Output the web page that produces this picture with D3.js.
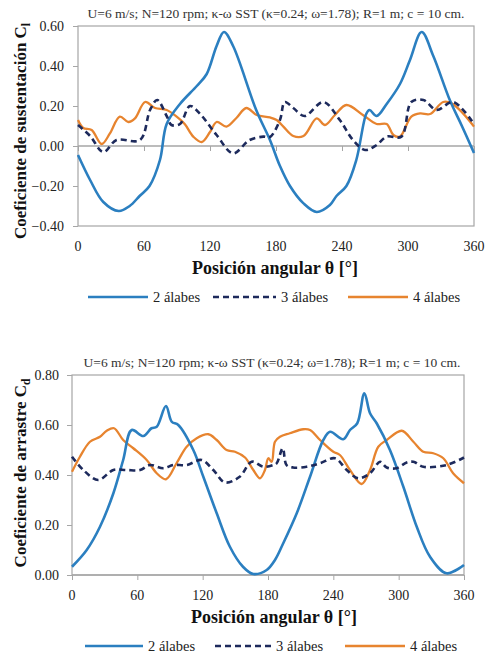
<!DOCTYPE html>
<html>
<head>
<meta charset="utf-8">
<script src="https://cdn.jsdelivr.net/npm/d3@7"></script>
<style>
  body { margin: 0; background: #fff; }
  svg { display: block; font-family: "Liberation Serif", "DejaVu Serif", serif; }
</style>
</head>
<body>
<svg id="chart" width="487" height="655"></svg>
<script>
// shared text
var titleText = 'U=6 m/s; N=120 rpm; \u03ba-\u03c9 SST (\u03ba=0.24; \u03c9=1.78); R=1 m; c = 10 cm.';
var xTitle = 'Posici\u00f3n angular  \u03b8 [\u00b0]';
var seriesNames = ['2 \u00e1labes', '3 \u00e1labes', '4 \u00e1labes'];
var xTicks = [0, 60, 120, 180, 240, 300, 360];

// lift coefficient Cl  [theta, value]
var cl2 = [[0,-0.045],[11,-0.17],[23,-0.28],[37,-0.325],[47,-0.30],[56,-0.25],[65,-0.20],[74.5,-0.07],[80.6,0.11],
  [92.7,0.21],[108,0.30],[117,0.36],[126,0.50],[132.7,0.57],[141,0.50],[162,0.18],[174.5,0.03],[183.6,-0.10],
  [192.7,-0.20],[205,-0.287],[217,-0.33],[229,-0.295],[235,-0.25],[244,-0.20],[253,-0.07],[262,0.16],[265,0.18],
  [271.5,0.15],[280.6,0.21],[292.7,0.31],[301.8,0.43],[312.4,0.57],[323,0.45],[338,0.23],[349,0.10],[360,-0.035]];
var cl3 = [[0,0.105],[11,0.05],[23,-0.03],[35,0.03],[56.4,0.03],[65.5,0.18],[72,0.23],[80.6,0.15],[85,0.105],
  [92.7,0.11],[101.8,0.20],[111,0.16],[126,0.055],[141,-0.037],[156,0.03],[168.5,0.047],[174.5,0.045],[183.6,0.13],
  [188,0.22],[195.7,0.19],[206,0.15],[223,0.22],[238,0.13],[250,0.03],[261,-0.02],[271.5,0.005],[280.6,0.047],
  [294,0.047],[303,0.22],[314,0.23],[326,0.18],[341,0.22],[360,0.11]];
var cl4 = [[0,0.13],[4.8,0.09],[12.4,0.08],[21.5,0.01],[29,0.063],[38,0.147],[45.7,0.12],[51.8,0.138],[61,0.22],
  [70,0.19],[80.6,0.18],[89.7,0.147],[97,0.11],[104.8,0.047],[112.5,0.02],[120,0.07],[126,0.12],[135,0.097],
  [144,0.14],[153,0.19],[162.5,0.155],[174.5,0.143],[180.6,0.13],[186.7,0.097],[195.7,0.05],[205,0.05],[217,0.138],
  [224.5,0.105],[233.6,0.155],[244,0.205],[259,0.155],[271.5,0.11],[280.6,0.11],[286.7,0.055],[292.7,0.047],
  [303,0.147],[311,0.163],[320,0.16],[332,0.22],[339.7,0.213],[350,0.163],[360,0.097]];

// drag coefficient Cd  [theta, value]
var cd2 = [[0,0.033],[13.5,0.10],[25.7,0.193],[38,0.327],[47,0.46],[54.8,0.58],[65.5,0.556],[73,0.587],[77.8,0.593],
  [86.3,0.676],[91.6,0.613],[97.6,0.60],[111.4,0.50],[120.6,0.393],[132.9,0.247],[145,0.113],[157,0.033],[166.5,0.004],
  [178.8,0.02],[186.4,0.06],[194,0.127],[206.4,0.247],[218.6,0.393],[230.8,0.54],[237,0.573],[249,0.543],[255.3,0.58],
  [262,0.607],[268.5,0.727],[273.7,0.647],[279.8,0.607],[292,0.50],[304.3,0.353],[316.6,0.193],[328.8,0.073],
  [344,0.007],[360,0.04]];
var cd3 = [[0,0.473],[10.4,0.42],[24,0.38],[38,0.42],[50,0.42],[62.5,0.42],[71.6,0.44],[84,0.427],[93,0.44],
  [105.3,0.44],[119,0.46],[129.8,0.42],[140.5,0.37],[154,0.393],[165,0.453],[175.7,0.433],[185,0.44],[188,0.447],
  [193.5,0.507],[197,0.44],[203,0.43],[215.5,0.433],[227.8,0.447],[241.5,0.467],[252.3,0.42],[263,0.387],
  [273.7,0.407],[282.9,0.453],[289,0.43],[298,0.427],[307.4,0.45],[313.5,0.453],[322.6,0.433],[344,0.44],[360,0.47]];
var cd4 = [[0,0.413],[7.3,0.473],[16.5,0.533],[25.7,0.553],[31.9,0.577],[38.6,0.587],[47,0.54],[56.3,0.507],
  [68.6,0.46],[77.8,0.407],[86.3,0.383],[96,0.447],[105.3,0.513],[114.5,0.547],[125.2,0.563],[132.9,0.54],[142,0.50],
  [149.7,0.493],[158.9,0.47],[166.5,0.42],[172.7,0.387],[177.2,0.42],[180.3,0.467],[183.4,0.453],[186.4,0.533],
  [191,0.553],[200,0.567],[212.4,0.583],[218.6,0.58],[227.8,0.54],[240,0.493],[246,0.48],[255.3,0.42],[266,0.364],
  [273.7,0.42],[281.3,0.513],[289,0.54],[302.8,0.577],[313.5,0.533],[322.6,0.493],[331.8,0.487],[341,0.467],
  [350,0.407],[360,0.367]];

var colors = ['#2b7fc0', '#1d2a5c', '#e7842f'];
var widths = [2.6, 2.6, 2.3];
var dashes = [null, '6,4', null];
var serif = 'Liberation Serif, DejaVu Serif, serif';

var svg = d3.select('#chart');

function drawPanel(opt) {
    var x = d3.scaleLinear().domain([0, 360]).range([opt.left, opt.right]);
    var y = d3.scaleLinear().domain(opt.yDomain).range([opt.bottom, opt.top]);
    var g = svg.append('g').attr('font-family', serif);

    // plot frame
    g.append('rect')
        .attr('x', opt.left).attr('y', opt.top)
        .attr('width', opt.right - opt.left).attr('height', opt.bottom - opt.top)
        .attr('fill', 'none').attr('stroke', '#a6a6a6').attr('stroke-width', 1.2);

    // y axis ticks + labels
    var yAxis = g.append('g')
        .attr('transform', 'translate(' + opt.left + ',0)')
        .call(d3.axisLeft(y).tickValues(opt.yTicks).tickSize(5).tickPadding(opt.yPad).tickFormat(d3.format('.2f')));
    yAxis.attr('font-family', serif);
    yAxis.select('.domain').remove();
    yAxis.selectAll('line').attr('stroke', '#a6a6a6');
    yAxis.selectAll('text').attr('font-size', 14).attr('fill', '#222');

    // horizontal axis at zero
    var zeroY = y(0);
    g.append('line')
        .attr('x1', opt.left).attr('x2', opt.right)
        .attr('y1', zeroY).attr('y2', zeroY)
        .attr('stroke', '#a6a6a6').attr('stroke-width', 1.4);
    var xAxis = g.append('g')
        .attr('transform', 'translate(0,' + zeroY + ')')
        .call(d3.axisBottom(x).tickValues(xTicks).tickSize(5).tickFormat(''));
    xAxis.select('.domain').remove();
    xAxis.selectAll('line').attr('stroke', '#a6a6a6');

    // x labels sit below the plot
    g.selectAll('.xlab')
        .data(xTicks)
        .enter().append('text')
        .attr('x', d => x(d))
        .attr('y', opt.bottom + 25)
        .attr('text-anchor', 'middle')
        .attr('font-size', 14)
        .attr('fill', '#222')
        .text(d => d);

    // series
    var line = d3.line()
        .x(d => x(d[0]))
        .y(d => y(d[1]))
        .curve(d3.curveCatmullRom.alpha(0.5));
    [2, 0, 1].forEach(function(i) {
        g.append('path')
            .datum(opt.series[i])
            .attr('d', line)
            .attr('fill', 'none')
            .attr('stroke', colors[i])
            .attr('stroke-width', widths[i])
            .attr('stroke-dasharray', dashes[i])
            .attr('stroke-linejoin', 'round');
    });

    // top note
    g.append('text')
        .attr('x', opt.titleX).attr('y', opt.top - 8)
        .attr('text-anchor', 'middle')
        .attr('font-size', 13.5)
        .attr('fill', '#333')
        .text(titleText);

    // y title with subscript
    var yt = g.append('text')
        .attr('transform', 'translate(' + 26 + ',' + opt.yTitleY + ') rotate(-90)')
        .attr('text-anchor', 'middle')
        .attr('font-size', 17)
        .attr('font-weight', 'bold')
        .attr('fill', '#111');
    yt.append('tspan').text(opt.yTitle + ' C');
    yt.append('tspan').attr('font-size', 11.5).attr('dy', 4).text(opt.sub);

    // x title
    g.append('text')
        .attr('x', opt.xTitleX).attr('y', opt.bottom + opt.xTitleDy)
        .attr('text-anchor', 'middle')
        .attr('font-size', 18)
        .attr('font-weight', 'bold')
        .attr('fill', '#111')
        .text(xTitle);

    // legend
    var legX = opt.legendX;
    var legY = opt.legendY;
    seriesNames.forEach(function(name, i) {
        g.append('line')
            .attr('x1', legX[i][0]).attr('x2', legX[i][1])
            .attr('y1', legY).attr('y2', legY)
            .attr('stroke', colors[i])
            .attr('stroke-width', widths[i])
            .attr('stroke-dasharray', dashes[i]);
        g.append('text')
            .attr('x', legX[i][1] + 5).attr('y', legY + 5)
            .attr('font-size', 14.5)
            .attr('fill', '#222')
            .text(name);
    });
}

drawPanel({
    left: 78, right: 474, top: 26, bottom: 226,
    yDomain: [-0.4, 0.6], yTicks: [-0.4, -0.2, 0, 0.2, 0.4, 0.6], yPad: 9,
    series: [cl2, cl3, cl4],
    titleX: 276, xTitleX: 275, xTitleDy: 48,
    yTitle: 'Coeficiente de sustentaci\u00f3n', sub: 'l', yTitleY: 131,
    legendX: [[88, 148], [213, 276], [348, 408]], legendY: 297
});

drawPanel({
    left: 72, right: 464, top: 375, bottom: 575,
    yDomain: [0, 0.8], yTicks: [0, 0.2, 0.4, 0.6, 0.8], yPad: 8,
    series: [cd2, cd3, cd4],
    titleX: 272, xTitleX: 274, xTitleDy: 48,
    yTitle: 'Coeficiente de arrastre', sub: 'd', yTitleY: 473,
    legendX: [[85, 143], [215, 271], [345, 405]], legendY: 646
});
</script>
</body>
</html>
